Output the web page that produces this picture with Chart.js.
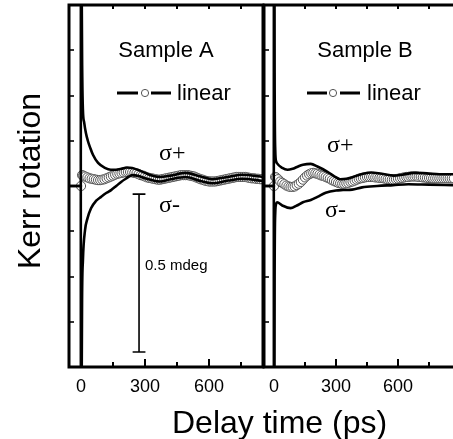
<!DOCTYPE html>
<html><head><meta charset="utf-8">
<script src="https://cdn.jsdelivr.net/npm/chart.js@4"></script>
<style>
html,body{margin:0;padding:0;background:#fff;overflow:hidden;width:453px;height:439px;}
#wrap{position:relative;width:453px;height:439px;overflow:hidden;}
canvas{position:absolute;top:0;}
#cA{left:0}
#cB{left:262px}
#xt{position:absolute;left:172px;top:406px;font:32px 'Liberation Sans',Arial,sans-serif;line-height:32px;white-space:nowrap;color:#000}
</style></head><body>
<div id="wrap">
<canvas id="cA" width="265" height="439"></canvas>
<canvas id="cB" width="191" height="439"></canvas>
<div id="xt">Delay time (ps)</div>
</div>
<script>
// ---------- data ----------
const xTickValues = [0, 150, 300, 450, 600, 750];
const xTickLabels = [0, 300, 600];
const yTickValues = [-3, -2, -1, 0, 1, 2, 3];

// Sample A
const sigPlusA_t = [-56, -1, 0, 3, 6, 9, 15, 23, 32, 42, 56, 80, 112, 140, 165, 190, 215, 240, 270, 300, 340, 370, 420, 490, 560, 615, 690, 755, 853];
const sigPlusA_v = [0, 0, 12, 4.5, 2.4, 1.68, 1.4, 1.17, 1.0, 0.86, 0.69, 0.51, 0.40, 0.36, 0.36, 0.38, 0.41, 0.40, 0.35, 0.29, 0.22, 0.20, 0.23, 0.29, 0.21, 0.15, 0.20, 0.25, 0.20];
const sigMinusA_t = [-56, -1, 0, 3, 5, 9, 19, 30, 47, 70, 94, 120, 141, 165, 188, 210, 240, 270, 300, 340, 370, 420, 490, 560, 615, 690, 755, 853];
const sigMinusA_v = [0, 0, -12, -4.5, -2.5, -1.64, -0.97, -0.72, -0.49, -0.33, -0.24, -0.15, -0.09, 0.0, 0.09, 0.16, 0.24, 0.22, 0.17, 0.12, 0.10, 0.15, 0.20, 0.11, 0.06, 0.12, 0.16, 0.11];
const linearA_t = [0, 5, 10, 20, 30, 40, 50, 60, 70, 80, 90, 100, 110, 120, 130, 140, 150, 160, 170, 180, 190, 200, 210, 220, 230, 240, 250, 260, 270, 280, 290, 300, 310, 320, 330, 340, 350, 360, 370, 380, 390, 400, 410, 420, 430, 440, 450, 460, 470, 480, 490, 500, 510, 520, 530, 540, 550, 560, 570, 580, 590, 600, 610, 620, 630, 640, 650, 660, 670, 680, 690, 700, 710, 720, 730, 740, 750, 760, 770, 780, 790, 800, 810, 820, 830, 840, 850];
const linearA_v = [0, 0.24, 0.23, 0.21, 0.19, 0.17, 0.16, 0.15, 0.14, 0.13, 0.13, 0.14, 0.15, 0.17, 0.19, 0.21, 0.23, 0.25, 0.27, 0.28, 0.29, 0.30, 0.31, 0.31, 0.31, 0.30, 0.29, 0.28, 0.26, 0.24, 0.23, 0.21, 0.19, 0.18, 0.17, 0.16, 0.15, 0.14, 0.14, 0.15, 0.16, 0.17, 0.18, 0.19, 0.20, 0.21, 0.22, 0.23, 0.24, 0.24, 0.24, 0.24, 0.23, 0.22, 0.21, 0.19, 0.17, 0.15, 0.14, 0.12, 0.11, 0.10, 0.10, 0.10, 0.10, 0.11, 0.12, 0.13, 0.14, 0.15, 0.16, 0.17, 0.18, 0.19, 0.20, 0.20, 0.20, 0.20, 0.20, 0.19, 0.18, 0.17, 0.17, 0.16, 0.16, 0.15, 0.15];

// Sample B
const sigPlusB_t = [-48, -1, 0, 3, 6, 10, 15, 40, 65, 90, 111, 140, 178, 210, 257, 290, 320, 350, 382, 430, 470, 520, 580, 620, 680, 740, 800, 866];
const sigPlusB_v = [0, 0, 12, 2.5, 0.8, 0.55, 0.5, 0.4, 0.36, 0.38, 0.42, 0.47, 0.49, 0.43, 0.32, 0.22, 0.15, 0.16, 0.20, 0.27, 0.30, 0.27, 0.23, 0.25, 0.29, 0.28, 0.26, 0.26];
const sigMinusB_t = [-48, -1, 0, 3, 6, 10, 15, 40, 80, 111, 140, 178, 210, 250, 300, 334, 378, 426, 499, 576, 650, 750, 866];
const sigMinusB_v = [0, 0, -12, -2.0, -0.6, -0.4, -0.36, -0.43, -0.49, -0.43, -0.36, -0.31, -0.24, -0.15, -0.10, -0.09, -0.08, -0.03, 0.0, 0.02, 0.04, 0.03, 0.02];
const linearB_t = [0, 5, 10, 20, 30, 40, 50, 60, 70, 80, 90, 100, 110, 120, 130, 140, 150, 160, 170, 180, 190, 200, 210, 220, 230, 240, 250, 260, 270, 280, 290, 300, 310, 320, 330, 340, 350, 360, 370, 380, 390, 400, 410, 420, 430, 440, 450, 460, 470, 480, 490, 500, 510, 520, 530, 540, 550, 560, 570, 580, 590, 600, 610, 620, 630, 640, 650, 660, 670, 680, 690, 700, 710, 720, 730, 740, 750, 760, 770, 780, 790, 800, 810, 820, 830, 840, 850, 860, 870];
const linearB_v = [0, 0.20, 0.19, 0.15, 0.10, 0.07, 0.04, 0.01, -0.01, -0.02, -0.02, -0.01, 0.02, 0.05, 0.09, 0.14, 0.19, 0.23, 0.26, 0.28, 0.29, 0.28, 0.27, 0.25, 0.23, 0.22, 0.20, 0.18, 0.16, 0.13, 0.11, 0.09, 0.07, 0.06, 0.05, 0.05, 0.06, 0.07, 0.09, 0.10, 0.12, 0.14, 0.16, 0.17, 0.18, 0.19, 0.20, 0.20, 0.20, 0.20, 0.19, 0.19, 0.18, 0.18, 0.17, 0.16, 0.15, 0.15, 0.14, 0.14, 0.15, 0.16, 0.17, 0.18, 0.19, 0.20, 0.20, 0.21, 0.21, 0.21, 0.21, 0.20, 0.20, 0.19, 0.19, 0.18, 0.18, 0.18, 0.17, 0.17, 0.17, 0.17, 0.17, 0.17, 0.17, 0.17, 0.17, 0.17, 0.17];

// 0.5 mdeg scale bar (Sample A panel)
const scaleBarT = 272;
const scaleBarCap = 30;
const scaleBarTop = -0.18;
const scaleBarBottom = -3.67;

// ---------- helpers ----------
const SANS = "'Liberation Sans', Arial, Helvetica, sans-serif";
const SERIF = "'Liberation Serif', 'Times New Roman', serif";
const pts = (t, v) => t.map((x, i) => ({x: x, y: v[i]}));

function lineDs(t, v) {
  return {data: pts(t, v), borderColor: '#000', borderWidth: 2.6, pointRadius: 0,
    cubicInterpolationMode: 'monotone', fill: false};
}
function circleDs(t, v) {
  return {data: pts(t, v), showLine: false, pointRadius: 4.6, pointBorderWidth: 1,
    pointBorderColor: '#555', pointBackgroundColor: '#fff', pointStyle: 'circle'};
}

const framePlugin = {
  id: 'frame',
  afterDatasetsDraw(chart, args, o) {
    const {ctx, chartArea: ca} = chart;
    const x = chart.scales.x, y = chart.scales.y;
    ctx.save();
    ctx.strokeStyle = '#000';
    ctx.lineCap = 'butt';
    ctx.lineWidth = 2;
    xTickValues.forEach(v => {
      const px = Math.round(x.getPixelForValue(v));
      const major = xTickLabels.includes(v);
      ctx.beginPath();
      ctx.moveTo(px, ca.bottom); ctx.lineTo(px, ca.bottom - (major ? 8 : 5));
      ctx.moveTo(px, ca.top); ctx.lineTo(px, ca.top + 4);
      ctx.stroke();
    });
    ctx.lineWidth = 1.6;
    yTickValues.forEach(v => {
      const py = Math.round(y.getPixelForValue(v));
      ctx.beginPath(); ctx.moveTo(ca.left, py); ctx.lineTo(ca.left + 5, py); ctx.stroke();
    });
    ctx.lineWidth = 3;
    ctx.beginPath();
    if (o.right) {
      ctx.moveTo(ca.right, ca.top); ctx.lineTo(ca.right, ca.bottom);
    }
    ctx.moveTo(ca.left, ca.top); ctx.lineTo(ca.left, ca.bottom);
    ctx.moveTo(ca.left - 1.5, ca.top); ctx.lineTo(ca.right + 1.5, ca.top);
    ctx.moveTo(ca.left - 1.5, ca.bottom); ctx.lineTo(ca.right + 1.5, ca.bottom);
    ctx.stroke();

    ctx.fillStyle = '#000';
    ctx.textBaseline = 'alphabetic';
    (o.texts || []).forEach(t => {
      ctx.font = t.font;
      ctx.textAlign = t.align || 'left';
      ctx.fillText(t.text, t.x, t.y);
    });
    const L = o.legend;
    ctx.lineWidth = 3;
    ctx.beginPath();
    ctx.moveTo(L.x1, L.y); ctx.lineTo(L.x2, L.y);
    ctx.moveTo(L.x3, L.y); ctx.lineTo(L.x4, L.y);
    ctx.stroke();
    ctx.beginPath();
    ctx.arc(L.cx, L.y, 3.6, 0, Math.PI * 2);
    ctx.fillStyle = '#fff'; ctx.fill();
    ctx.lineWidth = 1; ctx.strokeStyle = '#555'; ctx.stroke();
    ctx.fillStyle = '#000';
    ctx.font = '22px ' + SANS;
    ctx.textAlign = 'left';
    ctx.fillText('linear', L.tx, L.y + 7);
    if (o.yTitle) {
      ctx.save();
      ctx.translate(40, 181);
      ctx.rotate(-Math.PI / 2);
      ctx.font = '32px ' + SANS;
      ctx.textAlign = 'center';
      ctx.fillText(o.yTitle, 0, 0);
      ctx.restore();
    }
    ctx.restore();
  }
};

function xScale(min, max) {
  return {
    type: 'linear', min: min, max: max,
    grid: {display: false, drawTicks: false, tickLength: 0},
    border: {display: false},
    afterBuildTicks: s => { s.ticks = xTickValues.map(v => ({value: v})); },
    afterFit: s => { s.height = 72; s.paddingLeft = 0; s.paddingRight = 0; },
    ticks: {
      color: '#000', padding: 9, maxRotation: 0, autoSkip: false,
      font: {size: 18, family: SANS},
      callback: v => xTickLabels.includes(v) ? String(v) : ''
    }
  };
}
const yScale = {type: 'linear', min: -4, max: 4, display: false};

Chart.defaults.animation = false;

new Chart(document.getElementById('cA'), {
  type: 'line',
  data: {datasets: [
    lineDs(sigPlusA_t, sigPlusA_v),
    lineDs(sigMinusA_t, sigMinusA_v),
    {data: [
      {x: scaleBarT - scaleBarCap, y: scaleBarTop}, {x: scaleBarT + scaleBarCap, y: scaleBarTop},
      {x: scaleBarT, y: scaleBarTop}, {x: scaleBarT, y: scaleBarBottom},
      {x: scaleBarT - scaleBarCap, y: scaleBarBottom}, {x: scaleBarT + scaleBarCap, y: scaleBarBottom}],
     borderColor: '#000', borderWidth: 1.6, pointRadius: 0, tension: 0},
    circleDs(linearA_t, linearA_v)
  ]},
  options: {
    responsive: false, devicePixelRatio: 1, animation: false,
    layout: {autoPadding: false, padding: {left: 69, top: 5, right: 2, bottom: 0}},
    scales: {x: xScale(-56.25, 853), y: yScale},
    plugins: {
      legend: {display: false}, tooltip: {enabled: false},
      frame: {
        right: true, yTitle: 'Kerr rotation',
        legend: {x1: 117, x2: 138, cx: 145, x3: 151, x4: 171, tx: 177, y: 93},
        texts: [
          {text: 'Sample A', x: 166, y: 57, font: '22px ' + SANS, align: 'center'},
          {text: 'σ+', x: 159, y: 160, font: '24px ' + SERIF},
          {text: 'σ-', x: 159, y: 212, font: '24px ' + SERIF},
          {text: '0.5 mdeg', x: 145, y: 270, font: '15px ' + SANS}
        ]
      }
    }
  },
  plugins: [framePlugin]
});

new Chart(document.getElementById('cB'), {
  type: 'line',
  data: {datasets: [
    lineDs(sigPlusB_t, sigPlusB_v),
    lineDs(sigMinusB_t, sigMinusB_v),
    circleDs(linearB_t, linearB_v)
  ]},
  options: {
    responsive: false, devicePixelRatio: 1, animation: false,
    layout: {autoPadding: false, padding: {left: 2, top: 5, right: 0, bottom: 0}},
    scales: {x: xScale(-48.4, 866), y: yScale},
    plugins: {
      legend: {display: false}, tooltip: {enabled: false},
      frame: {
        right: false,
        legend: {x1: 45, x2: 65, cx: 71, x3: 78, x4: 98, tx: 105, y: 93},
        texts: [
          {text: 'Sample B', x: 103, y: 57, font: '22px ' + SANS, align: 'center'},
          {text: 'σ+', x: 65, y: 152, font: '24px ' + SERIF},
          {text: 'σ-', x: 63, y: 217, font: '24px ' + SERIF}
        ]
      }
    }
  },
  plugins: [framePlugin]
});
</script>
</body></html>
